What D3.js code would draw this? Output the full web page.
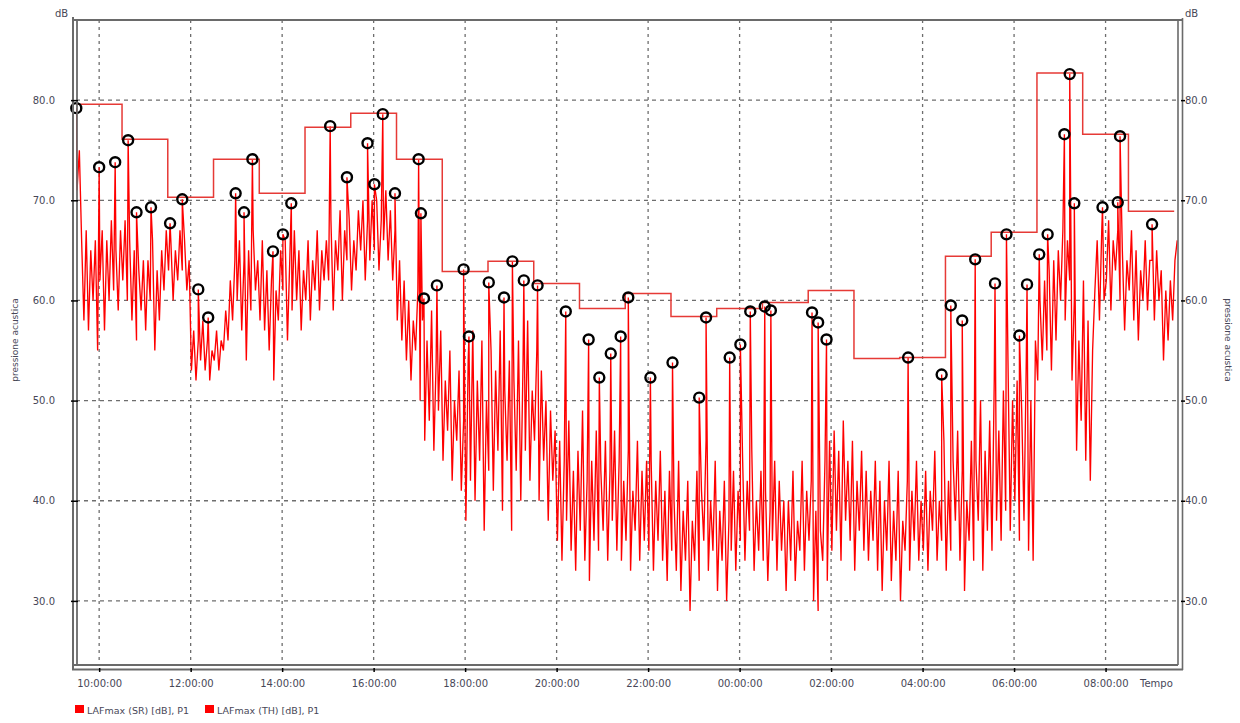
<!DOCTYPE html>
<html><head><meta charset="utf-8">
<script src="https://cdn.jsdelivr.net/npm/d3@7"></script>
<style>
body{margin:0;background:#fff}
svg{display:block}
text{font-family:"DejaVu Sans",sans-serif;fill:#474757}
</style>
</head><body>
<svg id="chart" width="1240" height="723"></svg>
<script>
// ---------------- DATA ----------------
const seriesNames = ["LAFmax (SR) [dB], P1", "LAFmax (TH) [dB], P1"];
const yTickValues = [30, 40, 50, 60, 70, 80];
const xTickTimes = ["10:00","12:00","14:00","16:00","18:00","20:00","22:00","00:00","02:00","04:00","06:00","08:00"];
const axisStart = "09:27", axisEnd = "+09:35";

// LAFmax (SR): samples every 3 minutes from 09:28
const srStart = "09:28", srStepMin = 3;
const srValues = [
  77,71,75,66,58,67,57,65,60,66,55,                               // 09:28
  62,67,57,66,60,68,61,65,59,67,62,68,60,66,58,65,56,63,59,64,     // 10
  57,64,60,66,55,63,58,65,61,67,63,66,60,65,62,67,63,66,61,64,     // 11
  53,57,52,56,54,58,53,56,52,55,54,57,53,56,55,59,56,62,58,64,     // 12
  60,66,57,64,54,65,59,67,61,64,58,66,57,63,55,62,52,61,58,65,     // 13
  61,66,56,64,59,67,60,65,57,63,60,66,58,64,61,67,59,65,62,66,     // 14
  62,68,59,66,63,69,60,67,64,68,61,66,63,69,65,70,62,68,64,70,     // 15
  65,70,63,68,66,71,64,69,62,67,58,64,56,62,54,60,52,58,55,61,     // 16
  50,58,46,56,48,59,45,54,49,57,44,52,47,55,42,50,46,53,41,48,     // 17
  38,54,42,57,40,52,44,56,37,50,43,55,41,53,45,57,39,51,44,54,     // 18
  37,52,43,56,40,54,45,58,42,51,46,55,40,53,44,50,38,49,42,47,     // 19
  36,46,34,44,38,48,35,43,33,45,37,49,34,42,32,44,36,47,35,43,     // 20
  37,46,34,43,38,47,35,44,34,42,36,45,33,41,37,46,34,43,36,44,     // 21
  35,44,33,42,36,45,34,41,32,43,35,40,33,44,31,39,34,42,29,38,     // 22
  34,43,32,41,36,46,33,40,35,44,31,39,34,42,30,38,35,43,33,41,     // 23
  36,44,34,42,37,45,33,40,35,43,34,41,32,39,36,44,33,42,35,40,     // 00
  31,40,34,43,32,38,35,44,33,41,36,42,30,39,29,37,34,44,32,46,     // 01
  35,47,37,45,34,48,38,44,36,46,33,42,37,45,35,43,34,41,36,44,     // 02
  33,42,31,40,35,44,32,39,34,43,30,38,35,42,33,41,36,44,34,40,     // 03
  35,43,33,41,37,45,34,40,36,46,33,42,35,44,38,47,34,43,31,40,     // 04
  36,46,34,44,38,50,33,45,37,48,35,52,38,47,36,51,39,54,37,50,     // 05
  40,52,36,49,38,54,35,50,34,56,52,60,54,62,55,63,53,64,56,65,     // 06
  60,67,58,66,62,52,60,45,56,48,62,44,58,42,55,61,66,58,67,60,     // 07
  62,68,59,66,63,67,60,65,57,64,61,67,58,65,56,63,60,66,59,64,     // 08
  64,58,65,60,63,54,61,56,62,58,64,66                              // 09
];

// Marked maxima (black circles) on the SR series
const eventTimes = ["09:30","10:00","10:21","10:38","10:49","11:08","11:33","11:49","12:10","12:23",
  "12:59","13:10","13:21","13:48","14:01","14:12","15:03","15:25","15:52","16:01",
  "16:12","16:28","16:59","17:02","17:06","17:23","17:58","18:05","18:31","18:51",
  "19:02","19:17","19:35","20:12","20:42","20:56","21:11","21:24","21:34","22:03",
  "22:32","23:07","23:16","23:47","00:01","00:14","00:33","00:41","01:35","01:43",
  "01:54","03:41","04:25","04:37","04:52","05:09","05:35","05:50","06:07","06:17",
  "06:33","06:44","07:06","07:13","07:19","07:56","08:16","08:19","09:01"];
const eventValues = [79.2,73.3,73.8,76.0,68.8,69.3,67.7,70.1,61.1,58.3,
  70.7,68.8,74.1,64.9,66.6,69.7,77.4,72.3,75.7,71.6,
  78.6,70.7,74.1,68.7,60.2,61.5,63.1,56.4,61.8,60.3,
  63.9,62.0,61.5,58.9,56.1,52.3,54.7,56.4,60.3,52.3,
  53.8,50.3,58.3,54.3,55.6,58.9,59.4,59.0,58.8,57.8,
  56.1,54.3,52.6,59.5,58.0,64.1,61.7,66.6,56.5,61.6,
  64.6,66.6,76.6,82.6,69.7,69.3,69.8,76.4,67.6];

// LAFmax (TH): hourly steps
const thStarts = ["09:28","10:30","11:30","12:30","13:30","14:30","15:30","16:30","17:30","18:30",
  "19:30","20:30","21:30","22:30","23:30","00:30","01:30","02:30","03:30","04:30",
  "05:30","06:30","07:30","08:30"];
const thEnd = "+09:30";
const thValues = [79.6,76.1,70.3,74.1,70.7,77.3,78.7,74.1,62.9,63.9,
  61.7,59.2,60.7,58.4,59.2,59.8,61.0,54.2,54.3,64.4,
  66.8,82.7,76.6,68.9];

// ---------------- CHART ----------------
function toDate(s){
  let next = false;
  if (s[0] === "+") { next = true; s = s.slice(1); }
  const [h, m] = s.split(":").map(Number);
  if (h < 9 || (h === 9 && m < 27)) next = true;
  return new Date(2000, 0, next ? 2 : 1, h, m);
}

const L = 74, R = 1178, T = 20, B = 665;
const svg = d3.select("#chart");
const x = d3.scaleTime().domain([toDate(axisStart), toDate(axisEnd)]).range([L, R]);
const y = d3.scaleLinear().domain([23.6, 88]).range([B, T]);
const gridColor = "#6e6e6e";

// grid
const grid = svg.append("g");
grid.selectAll("line.h").data(yTickValues).join("line")
  .attr("x1", L + 2).attr("x2", R).attr("y1", d => y(d)).attr("y2", d => y(d))
  .attr("stroke", gridColor).attr("stroke-width", 1.3).attr("stroke-dasharray", "4,4");
grid.selectAll("line.v").data(xTickTimes.map(toDate)).join("line")
  .attr("y1", T).attr("y2", B).attr("x1", d => x(d)).attr("x2", d => x(d))
  .attr("stroke", gridColor).attr("stroke-width", 1.3).attr("stroke-dasharray", "3,4");

svg.append("defs").append("clipPath").attr("id", "clip")
  .append("rect").attr("x", L + 2).attr("y", T).attr("width", R - L - 2).attr("height", B - T);

// SR series (samples + marked maxima)
const t0 = toDate(srStart).getTime();
const srPoints = srValues.map((v, i) => ({t: new Date(t0 + i * srStepMin * 60000), v}))
  .concat(eventTimes.map((s, i) => ({t: toDate(s), v: eventValues[i]})))
  .sort((a, b) => a.t - b.t);
const plot = svg.append("g").attr("clip-path", "url(#clip)");
plot.append("path").datum(srPoints)
  .attr("d", d3.line().x(d => x(d.t)).y(d => y(d.v)))
  .attr("fill", "none").attr("stroke", "#ff0000").attr("stroke-width", 1.35);

// TH step line
const thPoints = thStarts.map((s, i) => ({t: toDate(s), v: thValues[i]}));
thPoints.push({t: toDate(thEnd), v: thValues[thValues.length - 1]});
plot.append("path").datum(thPoints)
  .attr("d", d3.line().curve(d3.curveStepAfter).x(d => x(d.t)).y(d => y(d.v)))
  .attr("fill", "none").attr("stroke", "#e63a36").attr("stroke-width", 1.5);

// circles
svg.append("g").selectAll("circle").data(eventTimes.map((s, i) => ({t: toDate(s), v: eventValues[i]})))
  .join("circle").attr("cx", d => x(d.t)).attr("cy", d => y(d.v)).attr("r", 5)
  .attr("fill", "none").attr("stroke", "#000").attr("stroke-width", 2.4);

// frame
const frame = svg.append("g").attr("stroke", "#6a6a6a").attr("fill", "none");
frame.append("line").attr("x1", L).attr("x2", R + 5).attr("y1", T).attr("y2", T).attr("stroke-width", 2);
frame.append("line").attr("x1", R).attr("x2", R).attr("y1", T).attr("y2", B).attr("stroke-width", 1.6);
frame.append("line").attr("x1", R + 4.5).attr("x2", R + 4.5).attr("y1", T - 2).attr("y2", B + 5).attr("stroke-width", 1.6);
frame.append("line").attr("x1", 73).attr("x2", 73).attr("y1", T - 3).attr("y2", B + 5).attr("stroke-width", 2);
frame.append("line").attr("x1", 77).attr("x2", 77).attr("y1", T).attr("y2", B).attr("stroke-width", 1.8);
frame.append("line").attr("x1", 72).attr("x2", R).attr("y1", B).attr("y2", B).attr("stroke-width", 1.8);
frame.append("line").attr("x1", 72).attr("x2", R + 5).attr("y1", B + 4.5).attr("y2", B + 4.5).attr("stroke-width", 1.8);

// axes
function styleAxis(g){
  g.select(".domain").remove();
  g.selectAll(".tick line").attr("stroke", "#000").attr("stroke-width", 1.5);
  g.selectAll(".tick text").attr("font-family", "DejaVu Sans").attr("font-size", 10).attr("fill", "#474757");
}
svg.append("g").attr("transform", `translate(71,0)`)
  .call(d3.axisRight(y).tickValues(yTickValues).tickFormat(d3.format(".1f")).tickSize(7).tickPadding(-23))
  .call(g => { styleAxis(g); g.selectAll(".tick text").attr("text-anchor", "end").attr("x", -16); });
svg.append("g").attr("transform", `translate(${R + 3},0)`)
  .call(d3.axisRight(y).tickValues(yTickValues).tickFormat(d3.format(".1f")).tickSize(4).tickPadding(0))
  .call(styleAxis);
svg.append("g").attr("transform", `translate(0,${B + 3})`)
  .call(d3.axisBottom(x).tickValues(xTickTimes.map(toDate)).tickFormat(d3.timeFormat("%H:%M:%S")).tickSize(4).tickPadding(8))
  .call(styleAxis);

// labels
svg.append("text").attr("x", 55).attr("y", 17).attr("font-size", 10).text("dB");
svg.append("text").attr("x", 1185).attr("y", 17).attr("font-size", 10).text("dB");
svg.append("text").attr("x", 1140).attr("y", 687).attr("font-size", 10).text("Tempo");
svg.append("text").attr("transform", "translate(15,340) rotate(-90)").attr("text-anchor", "middle")
  .attr("dominant-baseline", "middle").attr("font-size", 9).text("pressione acustica");
svg.append("text").attr("transform", "translate(1227,340) rotate(90)").attr("text-anchor", "middle")
  .attr("dominant-baseline", "middle").attr("font-size", 9).text("pressione acustica");

// legend
const legX = [75, 205];
const leg = svg.append("g").selectAll("g").data(seriesNames).join("g")
  .attr("transform", (d, i) => `translate(${legX[i]},705)`);
leg.append("rect").attr("width", 9).attr("height", 8).attr("fill", "#ff0000");
leg.append("text").attr("x", 12).attr("y", 9).attr("font-size", 9.5).text(d => d);
</script>
</body></html>
